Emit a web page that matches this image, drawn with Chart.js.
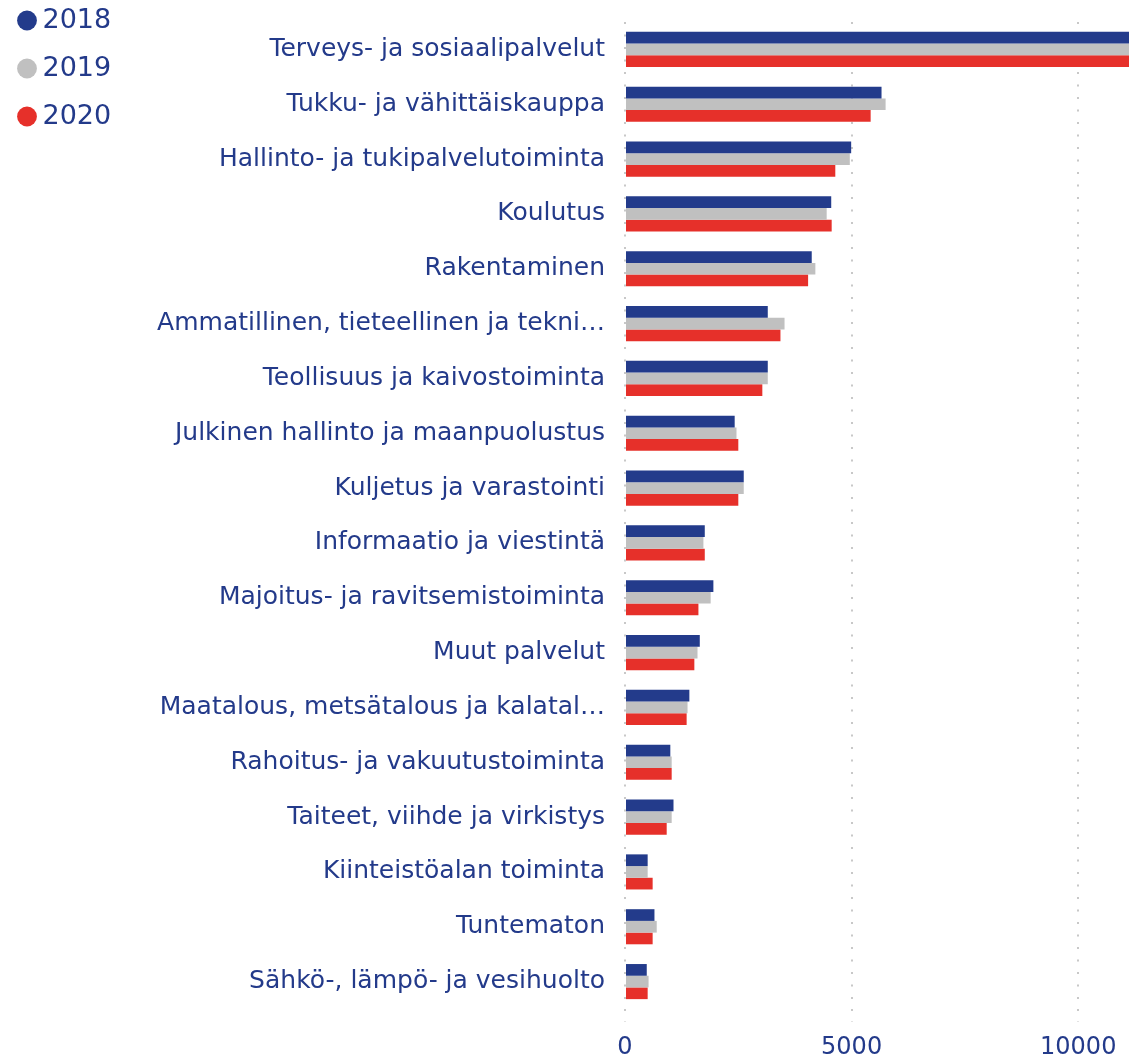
<!DOCTYPE html>
<html>
<head>
<meta charset="utf-8">
<script src="https://cdn.jsdelivr.net/npm/chart.js@4"></script>
<style>
  html, body { margin: 0; padding: 0; background: #fff; }
  #wrap { width: 1129px; height: 1058px; position: relative; }
</style>
</head>
<body>
<div id="wrap"><canvas id="c" width="1129" height="1058"></canvas></div>
<script>
const categories = [
  "Terveys- ja sosiaalipalvelut",
  "Tukku- ja vähittäiskauppa",
  "Hallinto- ja tukipalvelutoiminta",
  "Koulutus",
  "Rakentaminen",
  "Ammatillinen, tieteellinen ja tekni…",
  "Teollisuus ja kaivostoiminta",
  "Julkinen hallinto ja maanpuolustus",
  "Kuljetus ja varastointi",
  "Informaatio ja viestintä",
  "Majoitus- ja ravitsemistoiminta",
  "Muut palvelut",
  "Maatalous, metsätalous ja kalatal…",
  "Rahoitus- ja vakuutustoiminta",
  "Taiteet, viihde ja virkistys",
  "Kiinteistöalan toiminta",
  "Tuntematon",
  "Sähkö-, lämpö- ja vesihuolto"
];
const seriesNames = ["2018", "2019", "2020"];
const values2018 = [12500, 5660, 4990, 4550, 4120, 3150, 3150, 2420, 2620, 1760, 1950, 1650, 1420, 1000, 1070, 500, 650, 480];
const values2019 = [12800, 5750, 4960, 4450, 4200, 3520, 3150, 2460, 2620, 1730, 1890, 1600, 1380, 1030, 1030, 500, 700, 520];
const values2020 = [13100, 5420, 4640, 4560, 4040, 3430, 3030, 2500, 2500, 1760, 1620, 1530, 1360, 1030, 920, 610, 610, 500];
const xAxisMax = 11120;
const xTickValues = [0, 5000, 10000];

const BLUE = "#233b8b";
const GRAY = "#c0c0c0";
const RED = "#e6302a";
const TEXT = "#233a8a";
const FONT = "'DejaVu Sans', Verdana, sans-serif";

new Chart(document.getElementById("c"), {
  type: "bar",
  data: {
    labels: categories,
    datasets: [
      { label: seriesNames[0], data: values2018, backgroundColor: BLUE, borderWidth: 0 },
      { label: seriesNames[1], data: values2019, backgroundColor: GRAY, borderWidth: 0 },
      { label: seriesNames[2], data: values2020, backgroundColor: RED, borderWidth: 0 }
    ]
  },
  options: {
    indexAxis: "y",
    responsive: false,
    animation: false,
    devicePixelRatio: 1,
    layout: { padding: { left: 0, right: 0, top: 22, bottom: 0 } },
    datasets: { bar: { categoryPercentage: 0.64, barPercentage: 1.0 } },
    plugins: {
      tooltip: { enabled: false },
      legend: {
        position: "left",
        align: "start",
        labels: {
          usePointStyle: true,
          pointStyle: "circle",
          boxWidth: 4,
          boxHeight: 14,
          padding: 21,
          color: TEXT,
          font: { family: FONT, size: 27 }
        }
      }
    },
    scales: {
      x: {
        min: 0,
        max: xAxisMax,
        position: "bottom",
        border: { display: false, dash: [2, 10.5] },
        grid: {
          color: "#c8c8c8",
          lineWidth: 2,
          tickLength: 13,
          tickBorderDash: [2, 10.5],
          drawTicks: true
        },
        ticks: {
          color: TEXT,
          padding: 11,
          font: { family: FONT, size: 24 },
          maxRotation: 0,
          callback: (v) => String(v)
        },
        afterBuildTicks: (scale) => {
          scale.ticks = xTickValues.map(v => ({ value: v }));
        },
        afterFit: (scale) => {
          scale.height = 49;
          scale.paddingLeft = 0;
          scale.paddingRight = 0;
        }
      },
      y: {
        border: { display: false },
        grid: { display: false, drawTicks: false },
        ticks: {
          autoSkip: false,
          color: TEXT,
          padding: 20,
          font: { family: FONT, size: 25 }
        },
        afterFit: function (scale) {
          const lw = scale.chart.legend ? scale.chart.legend.width : 0;
          scale.width = 625 - lw;
          scale.paddingTop = 0;
          scale.paddingBottom = 0;
        }
      }
    }
  },
  plugins: [{
    id: "legendShift",
    beforeDraw(chart) {
      const lg = chart.legend;
      if (lg) {
        const dy = -14 - lg.top;
        lg.top += dy;
        lg.bottom += dy;
        const dx = 4 - lg.left;
        lg.left += dx;
        lg.right += dx;
      }
    }
  }]
});
</script>
</body>
</html>
